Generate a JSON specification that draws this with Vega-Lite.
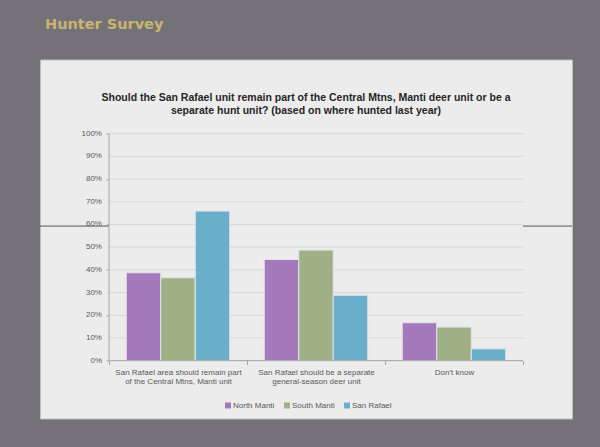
{
  "$schema": "https://vega.github.io/schema/vega-lite/v6.json",
  "width": 532,
  "height": 359,
  "autosize": "none",
  "padding": {"left": 40, "top": 59.5, "right": 28, "bottom": 28.5},
  "background": "#747278",
  "title": {
    "text": "Hunter Survey",
    "anchor": "start",
    "frame": "group",
    "dx": 5,
    "offset": 16,
    "baseline": "alphabetic",
    "font": "DejaVu Sans",
    "fontSize": 14.5,
    "fontWeight": "bold",
    "color": "#C9B66E"
  },
  "config": {
    "view": {"fill": "#ECECEC", "stroke": "#BDBDBD"},
    "axis": {"labelFont": "Liberation Sans", "labelFontSize": 8, "labelColor": "#595959", "title": null}
  },
  "datasets": {
    "bars": [
      {"answer": "San Rafael area should remain part of the Central Mtns, Manti unit", "region": "North Manti", "pct": 38.7},
      {"answer": "San Rafael area should remain part of the Central Mtns, Manti unit", "region": "South Manti", "pct": 36.5},
      {"answer": "San Rafael area should remain part of the Central Mtns, Manti unit", "region": "San Rafael", "pct": 65.9},
      {"answer": "San Rafael should be a separate general-season deer unit", "region": "North Manti", "pct": 44.6},
      {"answer": "San Rafael should be a separate general-season deer unit", "region": "South Manti", "pct": 48.7},
      {"answer": "San Rafael should be a separate general-season deer unit", "region": "San Rafael", "pct": 28.8},
      {"answer": "Don't know", "region": "North Manti", "pct": 16.7},
      {"answer": "Don't know", "region": "South Manti", "pct": 14.8},
      {"answer": "Don't know", "region": "San Rafael", "pct": 5.2}
    ],
    "grid": [{"g": 0, "lab": "0%"}, {"g": 10, "lab": "10%"}, {"g": 20, "lab": "20%"}, {"g": 30, "lab": "30%"}, {"g": 40, "lab": "40%"}, {"g": 50, "lab": "50%"}, {"g": 60, "lab": "60%"}, {"g": 70, "lab": "70%"}, {"g": 80, "lab": "80%"}, {"g": 90, "lab": "90%"}, {"g": 100, "lab": "100%"}],
    "one": [{"k": 1}]
  },
  "layer": [
    {
      "data": {"name": "one"},
      "mark": {"type": "rule", "color": "#555555", "strokeWidth": 1},
      "encoding": {
        "y": {"datum": 59.3, "type": "quantitative", "scale": {"domain": [-25.5, 132.7]}}
      }
    },
    {
      "data": {"name": "one"},
      "mark": {"type": "rect", "color": "#ECECEC"},
      "encoding": {
        "x": {"datum": "San Rafael area should remain part of the Central Mtns, Manti unit", "type": "nominal", "bandPosition": 0,
              "scale": {"domain": ["San Rafael area should remain part of the Central Mtns, Manti unit", "San Rafael should be a separate general-season deer unit", "Don't know"], "paddingInner": 0, "paddingOuter": 0.4275, "align": 0.5847}},
        "x2": {"datum": "Don't know", "bandPosition": 1},
        "y": {"datum": 0, "type": "quantitative", "scale": {"domain": [-25.5, 132.7]}},
        "y2": {"datum": 100}
      }
    },
    {
      "data": {"name": "grid"},
      "mark": {"type": "rule", "color": "#D6D6D6", "strokeWidth": 1},
      "encoding": {
        "x": {"datum": "San Rafael area should remain part of the Central Mtns, Manti unit", "type": "nominal", "bandPosition": 0,
              "scale": {"domain": ["San Rafael area should remain part of the Central Mtns, Manti unit", "San Rafael should be a separate general-season deer unit", "Don't know"], "paddingInner": 0, "paddingOuter": 0.4275, "align": 0.5847}},
        "x2": {"datum": "Don't know", "bandPosition": 1},
        "y": {"field": "g", "type": "quantitative", "scale": {"domain": [-25.5, 132.7]}}
      }
    },
    {
      "data": {"name": "grid"},
      "mark": {"type": "text", "font": "Liberation Sans", "fontSize": 8, "color": "#595959", "align": "right", "baseline": "middle", "dx": -7},
      "encoding": {
        "text": {"field": "lab"},
        "x": {"datum": "San Rafael area should remain part of the Central Mtns, Manti unit", "type": "nominal", "bandPosition": 0,
              "scale": {"domain": ["San Rafael area should remain part of the Central Mtns, Manti unit", "San Rafael should be a separate general-season deer unit", "Don't know"], "paddingInner": 0, "paddingOuter": 0.4275, "align": 0.5847}},
        "y": {"field": "g", "type": "quantitative", "scale": {"domain": [-25.5, 132.7]}}
      }
    },
    {
      "data": {"name": "bars"},
      "mark": {"type": "bar", "stroke": "#E4E4EC", "strokeWidth": 1},
      "encoding": {
        "x": {"field": "answer", "type": "nominal",
              "scale": {"domain": ["San Rafael area should remain part of the Central Mtns, Manti unit", "San Rafael should be a separate general-season deer unit", "Don't know"], "paddingInner": 0, "paddingOuter": 0.4275, "align": 0.5847},
              "axis": {"title": null, "orient": "bottom", "offset": -58, "domain": false, "labelAngle": 0, "labelAlign": "center", "labelBaseline": "top", "tickBand": "extent", "tickSize": 4, "tickColor": "#A6A6A6", "labelPadding": 4, "labelLineHeight": 9, "labelOverlap": false,
                       "labelExpr": "datum.value == 'San Rafael area should remain part of the Central Mtns, Manti unit' ? ['San Rafael area should remain part', 'of the Central Mtns, Manti unit'] : datum.value == 'San Rafael should be a separate general-season deer unit' ? ['San Rafael should be a separate', 'general-season deer unit'] : datum.value"}},
        "xOffset": {"field": "region", "type": "nominal", "sort": ["North Manti", "South Manti", "San Rafael"], "scale": {"paddingInner": 0, "paddingOuter": 0.5}},
        "y": {"field": "pct", "type": "quantitative", "scale": {"domain": [-25.5, 132.7]},
              "axis": {"title": null, "values": [0, 10, 20, 30, 40, 50, 60, 70, 80, 90, 100], "labels": false, "offset": -69, "domain": false, "grid": false, "tickSize": 3, "tickColor": "#A6A6A6"}},
        "color": {"field": "region", "type": "nominal", "sort": ["North Manti", "South Manti", "San Rafael"],
                  "scale": {"domain": ["North Manti", "South Manti", "San Rafael"], "range": ["#A479BB", "#9EB084", "#6AAFCA"]},
                  "legend": {"title": null, "orient": "none", "direction": "horizontal", "legendX": 184, "legendY": 342, "symbolType": "square", "symbolSize": 36, "symbolStrokeWidth": 0, "labelFont": "Liberation Sans", "labelFontSize": 8, "labelColor": "#595959", "labelOffset": 1, "columnPadding": 8}}
      }
    },
    {
      "data": {"name": "one"},
      "mark": {"type": "rule", "color": "#A6A6A6", "strokeWidth": 1},
      "encoding": {
        "x": {"datum": "San Rafael area should remain part of the Central Mtns, Manti unit", "type": "nominal", "bandPosition": 0,
              "scale": {"domain": ["San Rafael area should remain part of the Central Mtns, Manti unit", "San Rafael should be a separate general-season deer unit", "Don't know"], "paddingInner": 0, "paddingOuter": 0.4275, "align": 0.5847}},
        "y": {"datum": 0, "type": "quantitative", "scale": {"domain": [-25.5, 132.7]}},
        "y2": {"datum": 100}
      }
    },
    {
      "data": {"name": "one"},
      "mark": {"type": "rule", "color": "#A6A6A6", "strokeWidth": 1},
      "encoding": {
        "x": {"datum": "San Rafael area should remain part of the Central Mtns, Manti unit", "type": "nominal", "bandPosition": 0,
              "scale": {"domain": ["San Rafael area should remain part of the Central Mtns, Manti unit", "San Rafael should be a separate general-season deer unit", "Don't know"], "paddingInner": 0, "paddingOuter": 0.4275, "align": 0.5847}},
        "x2": {"datum": "Don't know", "bandPosition": 1},
        "y": {"datum": 0, "type": "quantitative", "scale": {"domain": [-25.5, 132.7]}}
      }
    },
    {
      "data": {"name": "one"},
      "mark": {"type": "text", "font": "Liberation Sans", "fontSize": 10.5, "fontWeight": "bold", "color": "#262626", "align": "center", "baseline": "alphabetic", "lineHeight": 13},
      "encoding": {
        "text": {"value": ["Should the San Rafael unit remain part of the Central Mtns, Manti deer unit or be a", "separate hunt unit? (based on where hunted last year)"]},
        "y": {"datum": 114.5, "type": "quantitative", "scale": {"domain": [-25.5, 132.7]}}
      }
    }
  ]
}
